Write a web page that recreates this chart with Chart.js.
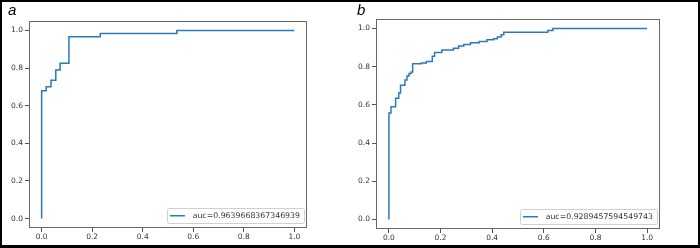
<!DOCTYPE html>
<html>
<head>
<meta charset="utf-8">
<script src="https://cdn.jsdelivr.net/npm/chart.js@4.4.1/dist/chart.umd.min.js"></script>
<style>
  html, body { margin: 0; padding: 0; background: #fff; }
  #page { position: relative; width: 700px; height: 248px; overflow: hidden; }
  canvas { position: absolute; top: 0; }
  #chartA { left: 0; }
  #chartB { left: 350px; }
  .panel-label { position: absolute; top: 2px; font: italic 15px "Liberation Sans", Arial, sans-serif; line-height: 1; color: #000; }
  #frame { position: absolute; left: 0; top: 0; width: 700px; height: 248px; box-sizing: border-box;
           border: 2px solid #000; border-bottom-width: 3px; pointer-events: none; }
</style>
</head>
<body>
<div id="page">
  <canvas id="chartA" width="350" height="248"></canvas>
  <canvas id="chartB" width="350" height="248"></canvas>
  <div class="panel-label" style="left:8px;">a</div>
  <div class="panel-label" style="left:357px;">b</div>
  <div id="frame"></div>
</div>
<script>
// ROC curve a (step corners)
const aFpr = [0, 0, 0.018, 0.037, 0.056, 0.073, 0.108, 0.232, 0.535, 1.0];
const aTpr = [0, 0.68, 0.70, 0.735, 0.79, 0.825, 0.966, 0.983, 1.0, 1.0];
const aLabel = 'auc=0.9639668367346939';

// ROC curve b
const bFpr = [0, 0, 0.008, 0.026, 0.038, 0.045, 0.062, 0.07, 0.078, 0.086, 0.092, 0.126, 0.145,
              0.168, 0.177, 0.205, 0.25, 0.27, 0.29, 0.316, 0.35, 0.38, 0.405, 0.42, 0.435, 0.445,
              0.615, 0.635, 1.0];
const bTpr = [0, 0.558, 0.59, 0.635, 0.663, 0.703, 0.73, 0.752, 0.765, 0.772, 0.815, 0.82, 0.828,
              0.855, 0.875, 0.887, 0.897, 0.908, 0.916, 0.925, 0.932, 0.941, 0.946, 0.956, 0.968, 0.98,
              0.99, 1.0, 1.0];
const bLabel = 'auc=0.9289457594549743';

const tickValues = [0, 0.2, 0.4, 0.6, 0.8, 1.0];

const lineColor = '#2a7ab8';
const tickFont = { family: '"DejaVu Sans", sans-serif', size: 7.5 };

// draws the matplotlib-style box around the plot area
const framePlugin = {
    id: 'frame',
    afterDraw(chart) {
        const a = chart.chartArea;
        const ctx = chart.ctx;
        ctx.save();
        ctx.strokeStyle = '#666';
        ctx.lineWidth = 1;
        ctx.strokeRect(Math.round(a.left) + 0.5, Math.round(a.top) + 0.5,
                       Math.round(a.right - a.left) - 1, Math.round(a.bottom - a.top) - 1);
        ctx.restore();
    }
};

// legend in the lower right corner, like loc='lower right'
const lowerRightLegend = {
    id: 'lowerRightLegend',
    afterDraw(chart) {
        const a = chart.chartArea;
        const ctx = chart.ctx;
        const ds = chart.data.datasets[0];
        ctx.save();
        ctx.font = '7.8px "DejaVu Sans", sans-serif';
        const textW = ctx.measureText(ds.label).width;
        const boxW = 2.5 + 15 + 7.7 + textW + 4;
        const boxH = 14.5;
        const right = a.right - 3;
        const bottom = a.bottom - 5.5;
        const left = right - boxW;
        const top = bottom - boxH;
        ctx.fillStyle = 'rgba(255,255,255,0.85)';
        ctx.strokeStyle = '#d0d0d0';
        ctx.lineWidth = 1;
        ctx.beginPath();
        ctx.roundRect(Math.round(left) + 0.5, Math.round(top) + 0.5, Math.round(boxW), Math.round(boxH), 2);
        ctx.fill();
        ctx.stroke();
        const midY = top + boxH / 2 + 0.5;
        ctx.strokeStyle = ds.borderColor;
        ctx.lineWidth = 1.5;
        ctx.beginPath();
        ctx.moveTo(left + 2.5, midY);
        ctx.lineTo(left + 17.5, midY);
        ctx.stroke();
        ctx.fillStyle = '#333';
        ctx.textBaseline = 'middle';
        ctx.fillText(ds.label, left + 25.2, midY);
        ctx.restore();
    }
};

function makeChart(id, fpr, tpr, label, yWidth, xHeight, padding) {
    const points = fpr.map((x, i) => ({ x: x, y: tpr[i] }));
    const axis = {
        type: 'linear',
        min: -0.05,
        max: 1.05,
        afterBuildTicks: scale => { scale.ticks = tickValues.map(v => ({ value: v })); },
        grid: { drawOnChartArea: false, drawTicks: true, tickLength: 4, tickColor: '#555', lineWidth: 1 },
        border: { display: false },
        ticks: { font: tickFont, color: '#333', callback: v => v.toFixed(1) }
    };
    return new Chart(document.getElementById(id), {
        type: 'line',
        data: {
            datasets: [{
                label: label,
                data: points,
                borderColor: lineColor,
                borderWidth: 1.5,
                pointRadius: 0,
                // horizontal to the next fpr first, then up (chart.js calls this 'before')
                stepped: 'before',
                fill: false
            }]
        },
        options: {
            responsive: false,
            animation: false,
            devicePixelRatio: 1,
            layout: { padding: padding },
            scales: {
                x: Object.assign({}, axis, {
                    ticks: Object.assign({}, axis.ticks, { padding: 1, maxRotation: 0 }),
                    afterFit: scale => { scale.height = xHeight; }
                }),
                y: Object.assign({}, axis, {
                    ticks: Object.assign({}, axis.ticks, { padding: 2 }),
                    afterFit: scale => { scale.width = yWidth; }
                })
            },
            plugins: {
                legend: { display: false },
                tooltip: { enabled: false }
            }
        },
        plugins: [framePlugin, lowerRightLegend]
    });
}

makeChart('chartA', aFpr, aTpr, aLabel, 29, 20, { left: 0, top: 21, right: 43, bottom: 0 });
makeChart('chartB', bFpr, bTpr, bLabel, 26, 19, { left: 0, top: 19, right: 40, bottom: 0 });
</script>
</body>
</html>
